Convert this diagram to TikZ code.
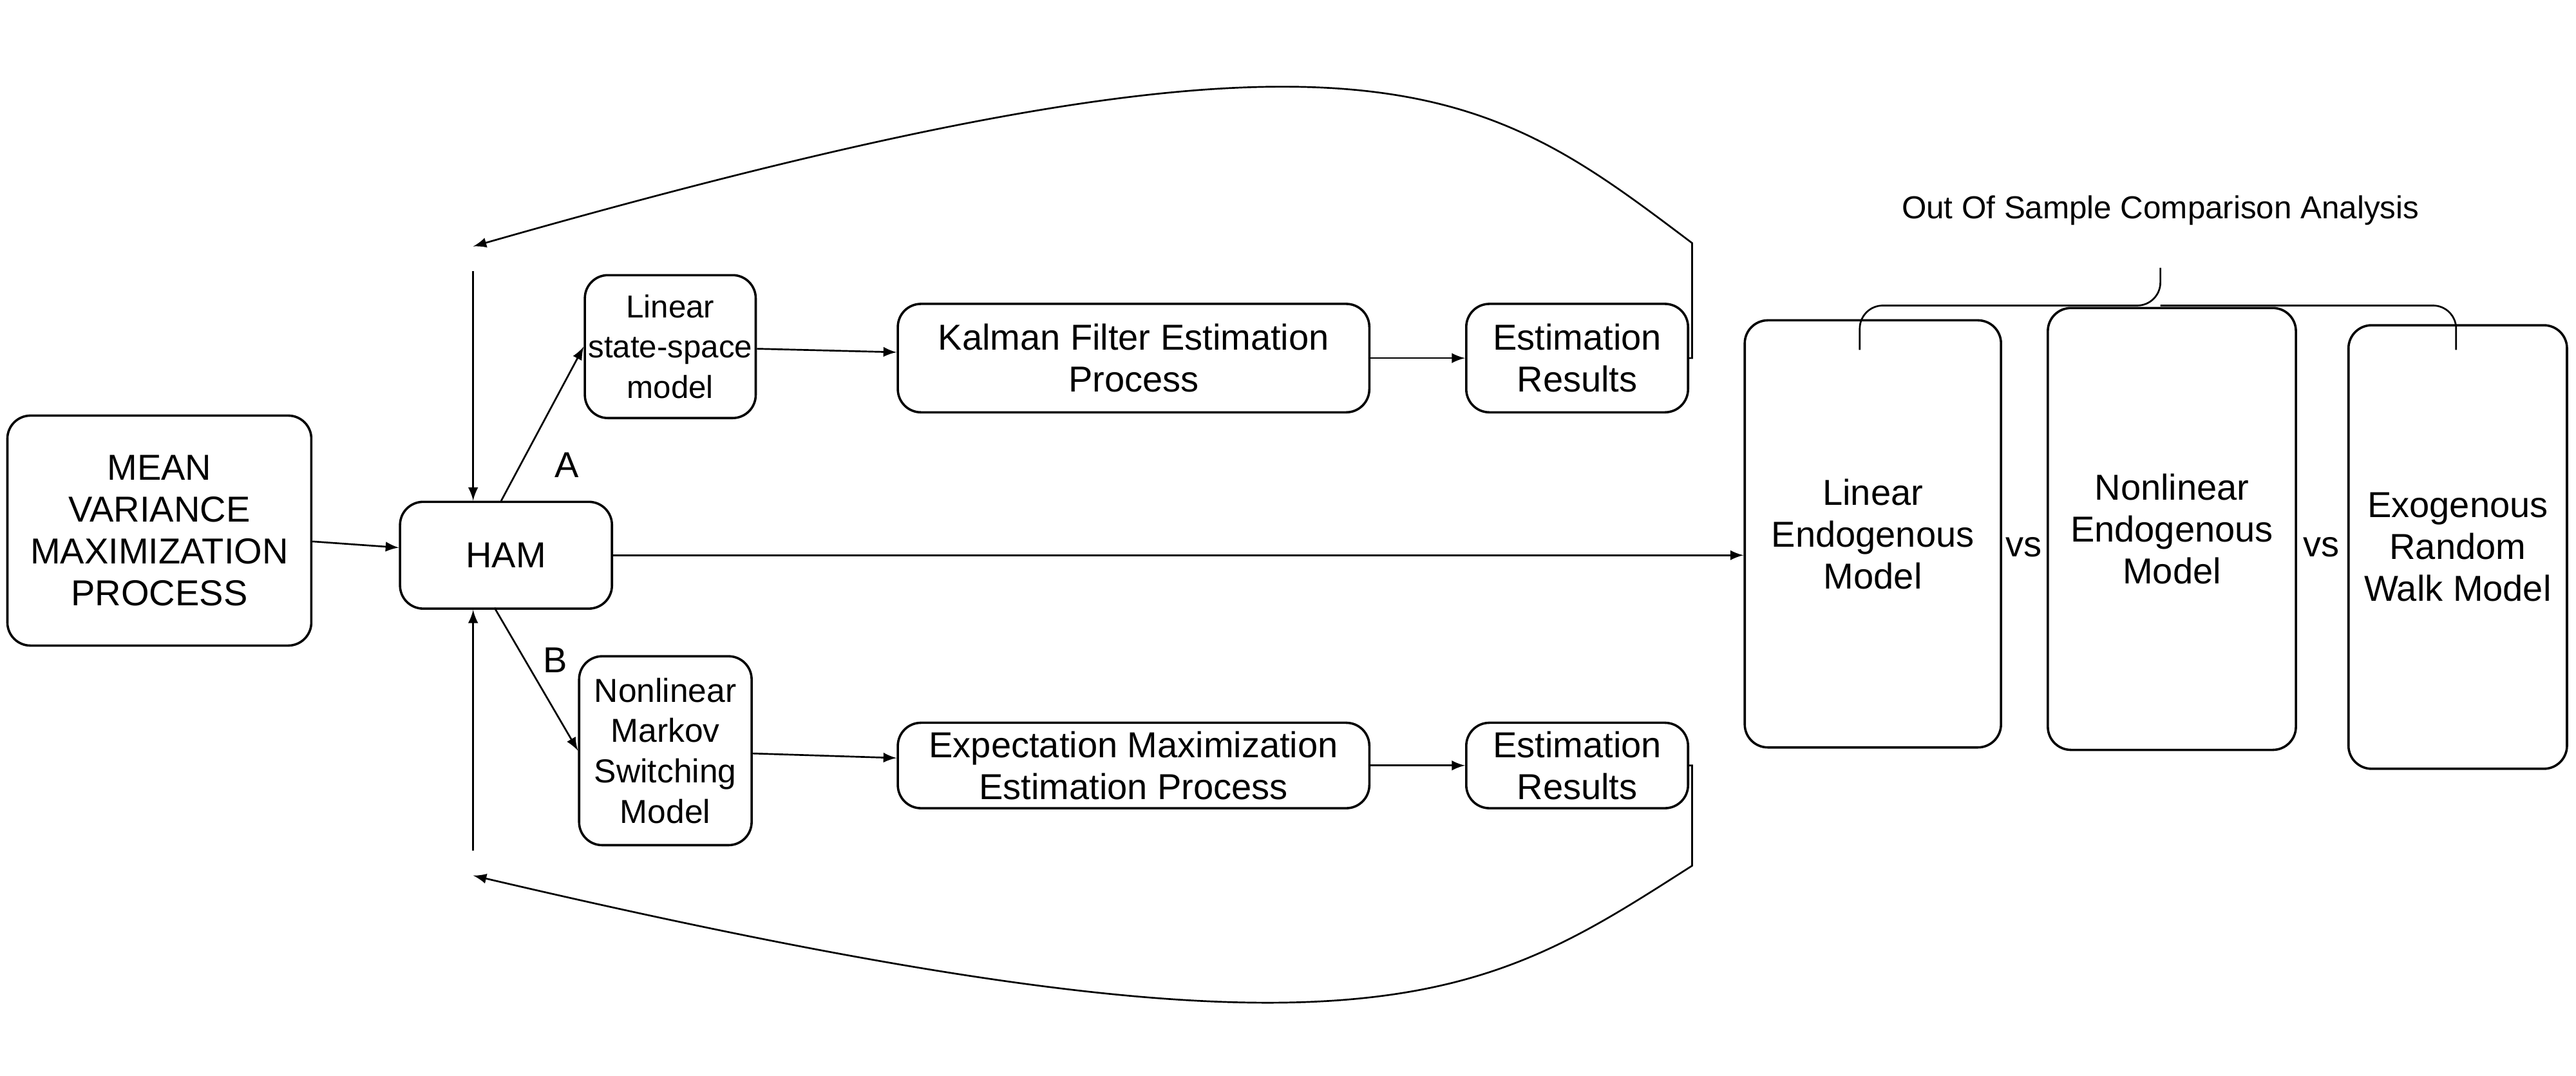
\documentclass[tikz,border=0pt]{standalone}
\usepackage{fontspec}
\setmainfont{Liberation Sans}

\begin{document}
\begin{tikzpicture}[
    x=0.02cm,y=-0.02cm,>=latex,semithick,
    box/.style={draw,thick,rounded corners=8pt,align=center,inner sep=0pt,
      font=\fontsize{12.5}{14.5}\selectfont},
    lbl/.style={font=\fontsize{12.5}{15}\selectfont}
    ]
    \useasboundingbox (0,0) rectangle (1568,655);
    \node[box,minimum width=185*0.02cm,minimum height=140*0.02cm] (mvmp) at (97,323) {MEAN\\VARIANCE\\MAXIMIZATION\\PROCESS};
    \node[box,minimum width=129*0.02cm,minimum height=65*0.02cm] (ham) at (308,338) {HAM};
    \node[box,minimum width=104*0.02cm,minimum height=87*0.02cm,font=\fontsize{11}{14}\selectfont] (lss) at (408,211) {Linear\\state-space\\model};
    \node[box,minimum width=287*0.02cm,minimum height=66*0.02cm] (kal) at (690,218) {Kalman Filter Estimation\\Process};
    \node[box,minimum width=135*0.02cm,minimum height=66*0.02cm] (est1) at (960,218) {Estimation\\Results};
    \node[box,minimum width=105*0.02cm,minimum height=115*0.02cm,font=\fontsize{11.5}{14}\selectfont] (nms) at (405,457) {Nonlinear\\Markov\\Switching\\Model};
    \node[box,minimum width=287*0.02cm,minimum height=52*0.02cm] (em) at (690,466) {Expectation Maximization\\Estimation Process};
    \node[box,minimum width=135*0.02cm,minimum height=52*0.02cm] (est2) at (960,466) {Estimation\\Results};
    \node[box,minimum width=156*0.02cm,minimum height=260*0.02cm] (lin) at (1140,325) {Linear\\Endogenous\\Model};
    \node[box,minimum width=151*0.02cm,minimum height=269*0.02cm] (nonlin) at (1322,322) {Nonlinear\\Endogenous\\Model};
    \node[box,minimum width=133*0.02cm,minimum height=270*0.02cm] (exo) at (1496,333) {Exogenous\\Random\\Walk Model};
    \node[lbl] (vs1) at (1232,333) {vs};
    \node[lbl] (vs2) at (1413,333) {vs};
    \node[lbl] (la) at (345,283) {A};
    \node[lbl] (lb) at (338,402) {B};
    % comparison brace
    \draw[rounded corners=8pt] (1132,213) -- (1132,186) -- (1315,186) -- (1315,163);
    \draw[rounded corners=8pt] (1495,213) -- (1495,186) -- (1315,186);
    \node[font=\fontsize{11}{13}\selectfont] (oos) at (1315,128) {Out Of Sample Comparison Analysis};

    \coordinate (top) at (288,150);
    \coordinate (topin) at (288,165);
    \coordinate (bot) at (288,533);
    \coordinate (botin) at (288,518);
    \coordinate (aout) at (305,305);
    \coordinate (bout) at (301,370);
    \draw[->] (mvmp) -- (ham);
    \draw[->] (ham.east) -- (lin.west |- ham.east);
    \draw[->] (aout) -- (lss.west);
    \draw[->] (bout) -- (nms.west);
    \draw[->] (lss) -- (kal);
    \draw[->] (kal) -- (est1);
    \draw[->] (nms) -- (em);
    \draw[->] (em) -- (est2);
    \draw[->] (est1.east) -| (1030,148) .. controls (900,50) and (830,-5) .. (top);
    \draw[->] (est2.east) -| (1030,527) .. controls (900,610) and (830,660) .. (bot);
    \draw[->] (topin) -- (ham.north -| topin);
    \draw[->] (botin) -- (ham.south -| botin);
  \end{tikzpicture}
\end{document}
